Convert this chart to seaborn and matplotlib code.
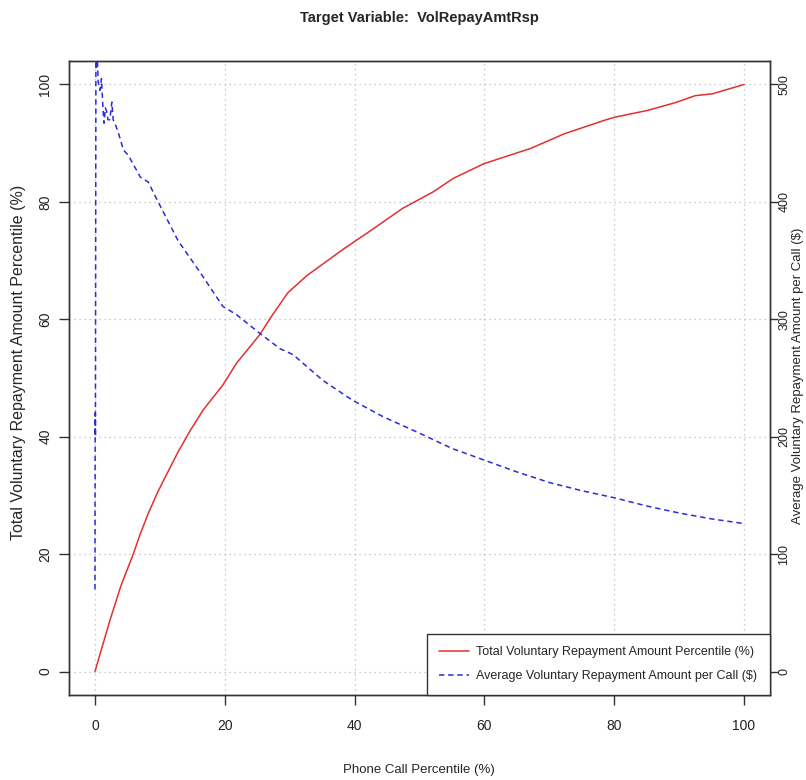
import numpy as np
import pandas as pd
import matplotlib
matplotlib.use("Agg")
import matplotlib.pyplot as plt
import seaborn as sns

# =========================================================
# DATA
# =========================================================

# red curve: cumulative share of repayment amount vs. share of calls
total_x = [0, 2.3, 4, 5.9, 7, 8.2, 9.6, 11, 12.8, 14.6, 16.7, 19.7, 21.8,
           25.4, 27.2, 29.7, 32.6, 38.2, 43, 47.4, 52.1, 55.2, 59.9, 67.1,
           72.3, 78.5, 80, 85.2, 89.4, 92.5, 95.1, 100]
total_pct = [0, 8.7, 14.6, 20, 23.5, 26.9, 30.4, 33.5, 37.4, 40.9, 44.6,
             48.8, 52.5, 57.4, 60.5, 64.5, 67.4, 71.9, 75.5, 78.9, 81.7, 84,
             86.5, 89.1, 91.6, 93.9, 94.4, 95.6, 96.9, 98.1, 98.4, 100]

# blue curve: average repayment amount per call ($)
avg_x = [0.0, 0.03, 0.05, 0.07, 0.15, 0.26, 0.35, 0.5, 0.78, 1.0, 1.24, 1.4,
         1.6, 1.8, 2.0, 2.3, 2.6, 2.8, 3.2, 3.6, 4.4, 5.1, 5.8, 7.0, 8.2,
         9.0, 10.1, 12.8, 13.8, 16.2, 19.7, 21.8, 25.4, 28.5, 30.5, 35.1,
         39.7, 44.4, 50, 55, 60, 65, 70, 75, 80, 85, 90, 95, 100]
avg_amt = [70, 190, 220, 200, 540, 513, 525, 502, 495, 505, 479, 467,
           480, 477, 470, 470, 485, 470, 465, 459, 444, 440, 433, 421, 417,
           408, 396, 367, 359, 340, 311, 304, 288, 275, 270, 248,
           231, 217, 203, 190, 180, 170, 161, 154, 148, 141, 135, 130, 126]

x_ticks = [0, 20, 40, 60, 80, 100]
left_ticks = [0, 20, 40, 60, 80, 100]
right_ticks = [0, 100, 200, 300, 400, 500]

label_total = "Total Voluntary Repayment Amount Percentile (%)"
label_avg = "Average Voluntary Repayment Amount per Call ($)"

df_total = pd.DataFrame({"x": total_x, "y": total_pct})
df_avg = pd.DataFrame({"x": avg_x, "y": avg_amt})

# =========================================================
# PLOT
# =========================================================

sns.set_style("white")
plt.rcParams["font.family"] = ["Liberation Sans", "DejaVu Sans"]

fig = plt.figure(figsize=(8.06, 7.8), dpi=100)
ax = fig.add_axes([69 / 806, 1 - 695 / 780, 701 / 806, 634 / 780])

sns.lineplot(data=df_total, x="x", y="y", ax=ax, color="#e3302f",
             linewidth=1.1, label=label_total, legend=False)
ax.set_xlim(-4, 104)
ax.set_ylim(-4, 104)
ax.set_xticks(x_ticks)
ax.set_yticks(left_ticks)
ax.grid(True, color="#bbbbbb", linestyle=(0, (1, 3)), linewidth=0.9)

ax2 = ax.twinx()
sns.lineplot(data=df_avg, x="x", y="y", ax=ax2, color="#2b2bd9",
             linewidth=1.1, linestyle=(0, (3.5, 2.5)), label=label_avg,
             legend=False, sort=False)
ax2.set_ylim(-20, 520)
ax2.set_yticks(right_ticks)

for a in (ax, ax2):
    for s in a.spines.values():
        s.set_color("#333333")
        s.set_linewidth(1.0)
    a.tick_params(direction="out", length=7, width=1.0, color="#333333",
                  labelsize=10, labelcolor="#222222")
    a.set_xlabel("")
    a.set_ylabel("")

ax.tick_params(axis="y", left=True, pad=5)
ax.tick_params(axis="x", bottom=True, pad=10)
for t in ax.get_yticklabels():
    t.set_rotation(90)
    t.set_va("center")
ax2.tick_params(axis="y", right=True, length=6, pad=0, labelsize=9)
for t in ax2.get_yticklabels():
    t.set_rotation(90)
    t.set_va("center")

fig.text(419 / 806, 1 - 18 / 780, "Target Variable:  VolRepayAmtRsp",
         ha="center", va="center", fontsize=10.5, fontweight="bold")
fig.text(419 / 806, 1 - 770 / 780, "Phone Call Percentile (%)",
         ha="center", va="center", fontsize=9.5)
fig.text(19 / 806, 1 - 362 / 780, label_total, rotation=90,
         ha="center", va="center", fontsize=11.5)
fig.text(798.3 / 806, 1 - 376 / 780, label_avg, rotation=90,
         ha="center", va="center", fontsize=9.5)

h1, l1 = ax.get_legend_handles_labels()
h2, l2 = ax2.get_legend_handles_labels()
leg = ax2.legend(h1 + h2, l1 + l2, loc="lower right",
                 bbox_to_anchor=(1, 0), borderaxespad=0, fancybox=False,
                 framealpha=1, edgecolor="#333333", handlelength=2.4,
                 handletextpad=0.6, labelspacing=1.0, borderpad=1.0,
                 prop={"size": 9})
leg.get_frame().set_linewidth(1.0)

fig.savefig("out.png", dpi=100)
